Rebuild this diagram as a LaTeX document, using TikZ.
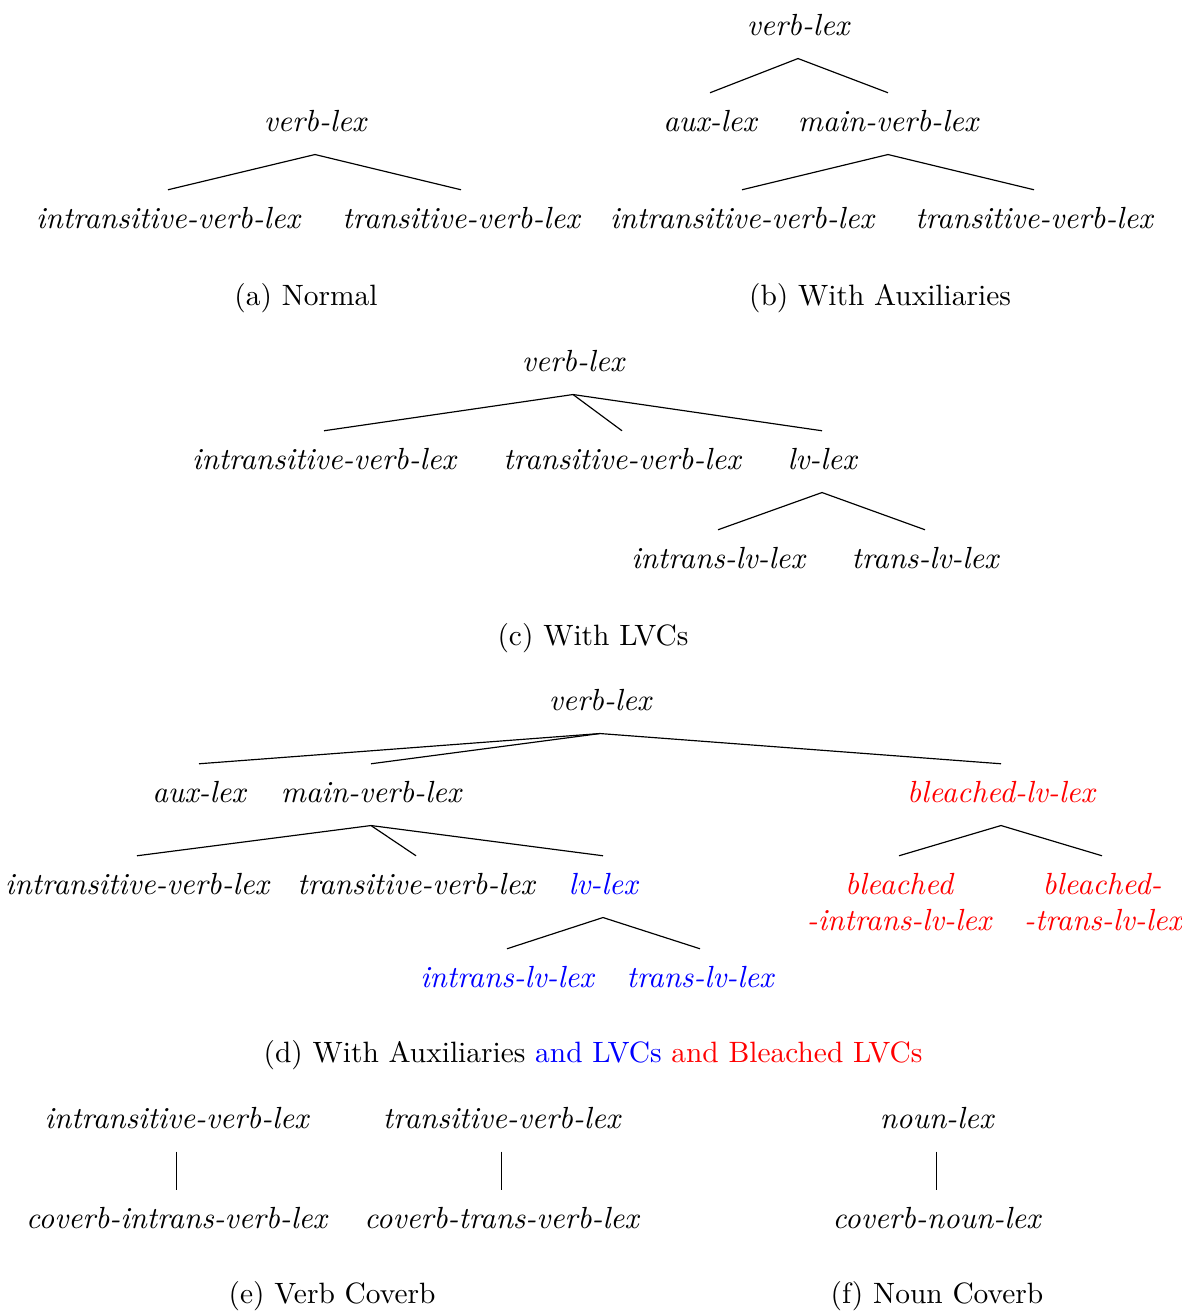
\documentclass[tikz,border=0pt]{standalone}
\begin{document}
\begin{tikzpicture}[x=0.34pt, y=-0.34pt,
  tn/.style={inner sep=0pt, anchor=base, text height=7pt, text depth=2pt,
             outer xsep=0pt, outer ysep=6pt, font=\fontsize{10.4}{12.5}\selectfont\itshape},
  captext/.style={inner sep=0pt, anchor=base},
  edge/.style={draw=black, line width=0.4pt}]
\useasboundingbox (0,0) rectangle (1182,1311);

% (a) Normal
\node[tn] (a0) at (315,131) {verb-lex};
\node[tn] (a1) at (168,228) {intransitive-verb-lex};
\node[tn] (a2) at (461,228) {transitive-verb-lex};
\draw[edge] (a0.south) -- (a1.north);
\draw[edge] (a0.south) -- (a2.north);
\node[captext] (capa) at (306,305) {(a) Normal};

% (b) With Auxiliaries
\node[tn] (b0) at (798,35) {verb-lex};
\node[tn] (b1) at (710,131) {aux-lex};
\node[tn] (b2) at (888,131) {main-verb-lex};
\node[tn] (b3) at (742,228) {intransitive-verb-lex};
\node[tn] (b4) at (1034,228) {transitive-verb-lex};
\draw[edge] (b0.south) -- (b1.north);
\draw[edge] (b0.south) -- (b2.north);
\draw[edge] (b2.south) -- (b3.north);
\draw[edge] (b2.south) -- (b4.north);
\node[captext] (capb) at (880,305) {(b) With Auxiliaries};

% (c) With LVCs
\node[tn] (c0) at (573,371) {verb-lex};
\node[tn] (c1) at (324,469) {intransitive-verb-lex};
\node[tn] (c2) at (622,469) {transitive-verb-lex};
\node[tn] (c3) at (822,469) {lv-lex};
\node[tn] (c4) at (718,568) {intrans-lv-lex};
\node[tn] (c5) at (925,568) {trans-lv-lex};
\draw[edge] (c0.south) -- (c1.north);
\draw[edge] (c0.south) -- (c2.north);
\draw[edge] (c0.south) -- (c3.north);
\draw[edge] (c3.south) -- (c4.north);
\draw[edge] (c3.south) -- (c5.north);
\node[captext] (capc) at (593,645) {(c) With LVCs};

% (d) With Auxiliaries and LVCs and Bleached LVCs
\node[tn] (d0) at (600,710) {verb-lex};
\node[tn] (d1) at (199,802) {aux-lex};
\node[tn] (d2) at (371,802) {main-verb-lex};
\node[tn, text=red] (d3) at (1001,802) {bleached-lv-lex};
\node[tn] (d4) at (137,894) {intransitive-verb-lex};
\node[tn] (d5) at (416,894) {transitive-verb-lex};
\node[tn, text=blue] (d6) at (603,894) {lv-lex};
\node[tn, text=red] (d7) at (899,894) {bleached};
\node[tn, text=red] (d7b) at (899,930) {-intrans-lv-lex};
\node[tn, text=red] (d8) at (1102,894) {bleached-};
\node[tn, text=red] (d8b) at (1103,930) {-trans-lv-lex};
\node[tn, text=blue] (d9) at (507,987) {intrans-lv-lex};
\node[tn, text=blue] (d10) at (700,987) {trans-lv-lex};
\draw[edge] (d0.south) -- (d1.north);
\draw[edge] (d0.south) -- (d2.north);
\draw[edge] (d0.south) -- (d3.north);
\draw[edge] (d2.south) -- (d4.north);
\draw[edge] (d2.south) -- (d5.north);
\draw[edge] (d2.south) -- (d6.north);
\draw[edge] (d3.south) -- (d7.north);
\draw[edge] (d3.south) -- (d8.north);
\draw[edge] (d6.south) -- (d9.north);
\draw[edge] (d6.south) -- (d10.north);
\node[captext] (capd) at (593,1062) {(d) With Auxiliaries \textcolor{blue}{and LVCs} \textcolor{red}{and Bleached LVCs}};

% (e) Verb Coverb
\node[tn] (e0) at (176.5,1128) {intransitive-verb-lex};
\node[tn] (e1) at (176.5,1228) {coverb-intrans-verb-lex};
\node[tn] (e2) at (501.5,1128) {transitive-verb-lex};
\node[tn] (e3) at (501.5,1228) {coverb-trans-verb-lex};
\draw[edge] (e0.south) -- (e1.north);
\draw[edge] (e2.south) -- (e3.north);
\node[captext] (cape) at (332,1303) {(e) Verb Coverb};

% (f) Noun Coverb
\node[tn] (f0) at (936.5,1128) {noun-lex};
\node[tn] (f1) at (936.5,1228) {coverb-noun-lex};
\draw[edge] (f0.south) -- (f1.north);
\node[captext] (capf) at (937,1303) {(f) Noun Coverb};
\end{tikzpicture}
\end{document}
